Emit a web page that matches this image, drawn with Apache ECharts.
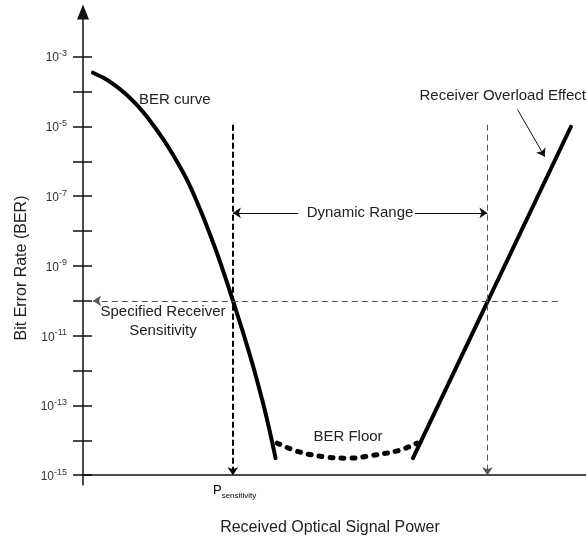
<!DOCTYPE html>
<html>
<head>
<meta charset="utf-8">
<script src="https://cdn.jsdelivr.net/npm/echarts@6/dist/echarts.min.js"></script>
<style>
html,body{margin:0;padding:0;background:#fff;}
#chart{width:586px;height:540px;}
</style>
</head>
<body>
<div id="chart"></div>
<script>
// ---- data (x: received power, arbitrary units 0..50; y: log10(BER)) ----
const berCurveX   = [0.99, 1.99, 2.98, 4.17, 5.47, 6.66, 7.95, 9.15, 10.34, 11.43, 12.62, 13.72, 14.91, 15.9, 16.9, 17.89, 18.59, 19.14];
const berCurveExp = [-3.46, -3.60, -3.78, -4.05, -4.42, -4.84, -5.36, -5.91, -6.53, -7.23, -8.09, -8.96, -10.0, -10.90, -11.86, -12.92, -13.77, -14.51];
const floorX      = [19.3, 21.6, 24.3, 26.5, 28.8, 31.5, 33.2];
const floorExp    = [-14.08, -14.34, -14.48, -14.51, -14.43, -14.28, -14.08];
const overloadX   = [32.8, 48.5];
const overloadExp = [-14.51, -5.01];
const sensitivityExp = -10;
const pSensX = 14.9;
const pOverX = 40.2;
const markerTopExp = -4.95;
const dynRangeExp = -7.48;
const dynRangeTextGap = [21.4, 33.0];
const overloadArrow = [[43.2, -4.52], [45.9, -5.87]];
const sensLineX = [1.0, 47.2];
const yTickExps  = [-15,-14,-13,-12,-11,-10,-9,-8,-7,-6,-5,-4,-3];
const yLabelExps = [-15,-13,-11,-9,-7,-5,-3];
const yBase = -15; // axis origin = 10^-15

const toY = e => e - yBase;
const pts = (xs, es) => xs.map((x, i) => [x, toY(es[i])]);

const chart = echarts.init(document.getElementById('chart'), null, {renderer: 'canvas'});
const font = '"Liberation Sans", Arial, sans-serif';
const txtColor = '#222';

const dashBlack = {color: '#000', width: 2, type: [6, 3]};
const dashGray  = {color: '#555', width: 1, type: [6, 4]};
const solidThin = {color: '#111', width: 1, type: 'solid'};

function seg(a, b, style, startSym, endSym) {
  return [
    {coord: [a[0], toY(a[1])], symbol: startSym || 'none', symbolSize: 8, lineStyle: style},
    {coord: [b[0], toY(b[1])], symbol: endSym || 'none', symbolSize: 8, lineStyle: style}
  ];
}

const option = {
  animation: false,
  backgroundColor: '#fff',
  grid: {left: 83, right: 0, top: 12, bottom: 55, containLabel: false},
  xAxis: {
    type: 'value', min: 0, max: 50,
    axisLine: {show: true, onZero: true, lineStyle: {color: '#111', width: 1.5}},
    axisTick: {show: false}, axisLabel: {show: false}, splitLine: {show: false}
  },
  yAxis: [{
    type: 'value', min: -0.28, max: 13.28, position: 'left',
    axisLine: {show: true, onZero: true, symbol: ['none', 'triangle'], symbolSize: [12, 15],
      lineStyle: {color: '#111', width: 1.5}},
    axisTick: {show: true, length: 10, customValues: yTickExps.map(toY),
      lineStyle: {color: '#111', width: 1.5}},
    axisLabel: {show: true, margin: 16, customValues: yLabelExps.map(toY),
      formatter: v => '{b|10}{s|' + Math.round(v + yBase) + '}',
      rich: {
        b: {fontSize: 12, fontFamily: font, color: '#333', lineHeight: 15, verticalAlign: 'bottom'},
        s: {fontSize: 9, fontFamily: font, color: '#333', lineHeight: 15, verticalAlign: 'top'}
      }},
    splitLine: {show: false}
  }, {
    type: 'value', min: -0.28, max: 13.28, position: 'left', offset: 0,
    axisLine: {show: false},
    axisTick: {show: true, inside: true, length: 9, customValues: yTickExps.map(toY),
      lineStyle: {color: '#111', width: 1.5}},
    axisLabel: {show: false}, splitLine: {show: false}
  }],
  series: [{
    name: 'BER curve', type: 'line', smooth: 0.2, symbol: 'none',
    data: pts(berCurveX, berCurveExp),
    lineStyle: {color: '#000', width: 4, cap: 'round'},
    markLine: {
      silent: true, animation: false, label: {show: false},
      data: [
        seg([pSensX, markerTopExp], [pSensX, yBase], dashBlack, 'none', 'arrow'),
        seg([pOverX, markerTopExp], [pOverX, yBase], dashGray, 'none', 'arrow'),
        seg([sensLineX[1], sensitivityExp], [sensLineX[0], sensitivityExp], dashGray, 'none', 'arrow'),
        seg([dynRangeTextGap[0], dynRangeExp], [pSensX, dynRangeExp], solidThin, 'none', 'arrow'),
        seg([dynRangeTextGap[1], dynRangeExp], [pOverX, dynRangeExp], solidThin, 'none', 'arrow'),
        seg(overloadArrow[0], overloadArrow[1], solidThin, 'none', 'arrow')
      ]
    }
  }, {
    name: 'BER floor', type: 'line', smooth: 0.4, symbol: 'none',
    data: pts(floorX, floorExp),
    lineStyle: {color: '#000', width: 5, type: [3, 8], cap: 'round'}
  }, {
    name: 'Overload', type: 'line', symbol: 'none',
    data: pts(overloadX, overloadExp),
    lineStyle: {color: '#000', width: 4, cap: 'round'}
  }],
  graphic: [
    {type: 'text', left: 139, top: 92, style: {text: 'BER curve', fontSize: 15, fontFamily: font, fill: txtColor}},
    {type: 'text', x: 360, y: 213, style: {text: 'Dynamic Range', fontSize: 15, fontFamily: font, fill: txtColor, align: 'center', verticalAlign: 'middle'}},
    {type: 'text', x: 586, y: 96, style: {text: 'Receiver Overload Effect', fontSize: 15, fontFamily: font, fill: txtColor, align: 'right', verticalAlign: 'middle'}},
    {type: 'text', x: 163, y: 321, style: {text: 'Specified Receiver\nSensitivity', fontSize: 15, lineHeight: 19, fontFamily: font, fill: txtColor, align: 'center', verticalAlign: 'middle'}},
    {type: 'text', x: 348, y: 437, style: {text: 'BER Floor', fontSize: 15, fontFamily: font, fill: txtColor, align: 'center', verticalAlign: 'middle'}},
    {type: 'text', x: 213, y: 492, style: {text: '{p|P}{s|sensitivity}', fontFamily: font, verticalAlign: 'middle',
      rich: {p: {fontSize: 13, color: txtColor, fontFamily: font, lineHeight: 16, verticalAlign: 'top'},
             s: {fontSize: 8, color: txtColor, fontFamily: font, lineHeight: 16, verticalAlign: 'bottom'}}}},
    {type: 'text', x: 330, y: 528, style: {text: 'Received Optical Signal Power', fontSize: 16, fontFamily: font, fill: txtColor, align: 'center', verticalAlign: 'middle'}},
    {type: 'text', x: 22, y: 268, rotation: Math.PI / 2, style: {text: 'Bit Error Rate (BER)', fontSize: 16, fontFamily: font, fill: txtColor, align: 'center', verticalAlign: 'middle'}}
  ]
};
chart.setOption(option);
</script>
</body>
</html>
